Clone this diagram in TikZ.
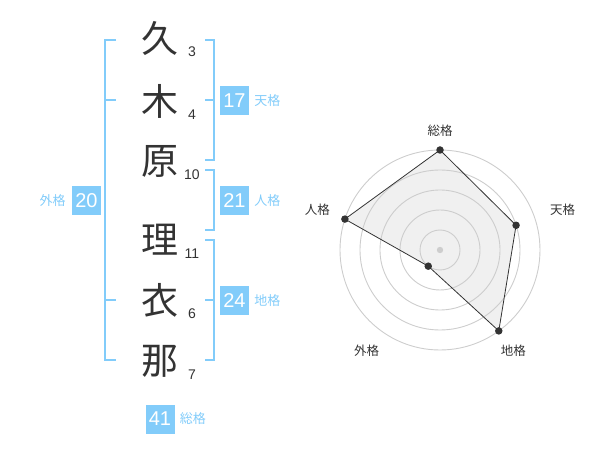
\documentclass[tikz,border=0pt]{standalone}
\usepackage{fontspec}
\setmainfont{Liberation Sans}
\newfontfamily\jpfont{Noto Sans CJK JP}
\usetikzlibrary{calc, positioning}

\definecolor{kakublue}{RGB}{130,204,250}
\definecolor{inkgrey}{RGB}{51,51,51}
\definecolor{gridgrey}{RGB}{205,205,205}
\definecolor{areagrey}{RGB}{240,240,240}

\tikzset{
  kanji/.style={text=inkgrey, font=\jpfont\fontsize{37}{37}\selectfont, inner sep=0pt},
  strokes/.style={text=inkgrey, font=\fontsize{14}{14}\selectfont, inner sep=0pt},
  kakubox/.style={fill=kakublue, text=white, minimum size=29pt, inner sep=0pt,
                  font=\fontsize{20}{20}\selectfont},
  kakulabel/.style={text=kakublue, font=\jpfont\fontsize{13}{13}\selectfont, inner sep=0pt},
  bracket/.style={draw=kakublue, line width=1.5pt},
  axislabel/.style={text=inkgrey, font=\jpfont\fontsize{12.5}{12.5}\selectfont, inner sep=0pt},
  dot/.style={circle, fill=inkgrey, inner sep=0pt, minimum size=7.5pt},
}

\begin{document}
\begin{tikzpicture}[x=1pt, y=-1pt]
\useasboundingbox (0,0) rectangle (600,470);

% The name, one character per line, with its strokes
    \foreach \n/\y/\c/\s in {1/38/久/3,
                             2/101/木/4,
                             3/161/原/10,
                             4/240/理/11,
                             5/300/衣/6,
                             6/361/那/7} {
        \node[kanji] (k\n) at (160,\y) {\c};
        \node[strokes] (s\n) at (192,\y+14) {\s};
    };

% The brackets
\draw[bracket] (116,40) -- (105,40) -- (105,360) -- (116,360);
\draw[bracket] (105,100) -- (116,100);
\draw[bracket] (105,300) -- (116,300);
\draw[bracket] (205,40) -- (214,40) -- (214,160) -- (205,160);
\draw[bracket] (205,100) -- (214,100);
\draw[bracket] (205,170) -- (214,170) -- (214,230) -- (205,230);
\draw[bracket] (205,240) -- (214,240) -- (214,360) -- (205,360);
\draw[bracket] (205,300) -- (214,300);

% The five totals
\node[kakubox] (ten) at (234.5,100.5) {17};
\node[kakulabel, right=5pt of ten] (ten-l) {天格};
\node[kakubox] (jin) at (234.5,200.5) {21};
\node[kakulabel, right=5pt of jin] (jin-l) {人格};
\node[kakubox] (chi) at (234.5,300.5) {24};
\node[kakulabel, right=5pt of chi] (chi-l) {地格};
\node[kakubox] (gai) at (86.5,200.5) {20};
\node[kakulabel, left=6pt of gai] (gai-l) {外格};
\node[kakubox] (sou) at (160,419) {41};
\node[kakulabel, right=5pt of sou] (sou-l) {総格};

% The radar chart
\begin{scope}[shift={(440,250)}, y=1pt]
    \foreach \ang/\r/\lr/\nm/\A in {90/100/119/sou/総格,
                                   18/80/129/ten/天格,
                                   -54/100/125/chi/地格,
                                   -126/20/125/gai/外格,
                                   162/100/129/jin/人格} {
        \coordinate (p-\nm) at (\ang:\r);
        \node[axislabel] (a-\nm) at (\ang:\lr) {\A};
    };
    \fill[areagrey] (p-sou) -- (p-ten) -- (p-chi) -- (p-gai) -- (p-jin) -- cycle;
    \foreach \r in {20,40,...,100}
        \draw[gridgrey, line width=0.9pt] (0,0) circle (\r);
    \fill[gridgrey] (0,0) circle (3.2);
    \draw[inkgrey, line width=0.8pt] (p-sou) -- (p-ten) -- (p-chi) -- (p-gai) -- (p-jin) -- cycle;
    \foreach \nm in {sou,ten,chi,gai,jin}
        \node[dot] (d-\nm) at (p-\nm) {};
\end{scope}
\end{tikzpicture}
\end{document}
